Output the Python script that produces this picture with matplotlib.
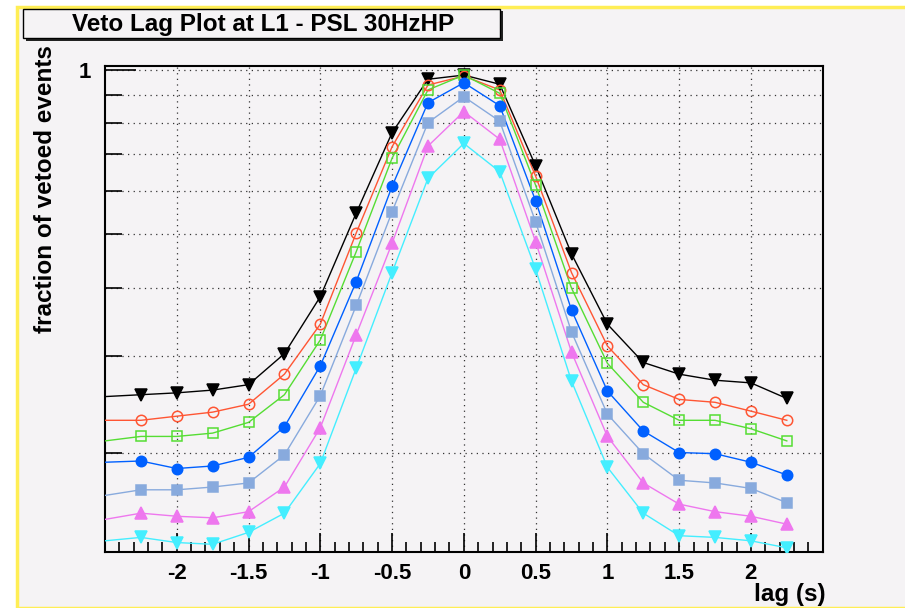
import matplotlib
matplotlib.use("Agg")
import matplotlib.pyplot as plt
from matplotlib.patches import Rectangle
from matplotlib.ticker import FixedLocator, NullFormatter, MultipleLocator

# lag values (s); the first point sits on the left frame edge
lags = [-2.5, -2.25, -2.0, -1.75, -1.5, -1.25, -1.0, -0.75, -0.5, -0.25,
        0.0, 0.25, 0.5, 0.75, 1.0, 1.25, 1.5, 1.75, 2.0, 2.25]

black = [0.253, 0.255, 0.257, 0.260, 0.266, 0.303, 0.385, 0.547, 0.767, 0.960,
         0.977, 0.940, 0.667, 0.461, 0.343, 0.292, 0.278, 0.271, 0.268, 0.251]
red = [0.229, 0.229, 0.233, 0.237, 0.245, 0.278, 0.343, 0.503, 0.723, 0.937,
       0.973, 0.918, 0.639, 0.426, 0.313, 0.266, 0.250, 0.247, 0.238, 0.229]
green = [0.210, 0.214, 0.214, 0.217, 0.227, 0.255, 0.321, 0.465, 0.689, 0.918,
         0.977, 0.905, 0.615, 0.399, 0.291, 0.247, 0.229, 0.229, 0.221, 0.210]
blue = [0.192, 0.193, 0.187, 0.189, 0.196, 0.223, 0.288, 0.410, 0.612, 0.870,
        0.946, 0.859, 0.576, 0.364, 0.259, 0.219, 0.200, 0.199, 0.192, 0.182]
lightblue = [0.167, 0.171, 0.171, 0.173, 0.176, 0.198, 0.254, 0.371, 0.550, 0.800,
             0.892, 0.805, 0.527, 0.332, 0.235, 0.199, 0.178, 0.176, 0.172, 0.162]
pink = [0.151, 0.155, 0.153, 0.152, 0.156, 0.173, 0.222, 0.328, 0.482, 0.725,
        0.838, 0.746, 0.485, 0.305, 0.214, 0.176, 0.161, 0.156, 0.153, 0.148]
cyan = [0.138, 0.140, 0.137, 0.136, 0.143, 0.155, 0.191, 0.285, 0.426, 0.633,
        0.733, 0.651, 0.432, 0.270, 0.188, 0.155, 0.141, 0.140, 0.138, 0.134]

series = [
    (black, "#000000", "v", True),
    (red, "#ff5533", "o", False),
    (green, "#55dd33", "s", False),
    (blue, "#0060ff", "o", True),
    (lightblue, "#88aadd", "s", True),
    (pink, "#ee77ee", "^", True),
    (cyan, "#44eeff", "v", True),
]

bg = "#f5f3f5"
fig = plt.figure(figsize=(9.05, 6.08), dpi=100, facecolor="white")
# yellow pad border
fig.patches.append(Rectangle((17 / 905, 0), 1, 1 - 7 / 608, transform=fig.transFigure,
                             facecolor=bg, edgecolor="#ffee55", linewidth=2.5, zorder=-2))

ax = fig.add_axes([105 / 905, 1 - 552.3 / 608, 717.7 / 905, 486.3 / 608])
ax.set_facecolor(bg)

for vals, col, mk, filled in series:
    ax.plot(lags, vals, color=col, linewidth=1, zorder=3)
    ax.plot(lags[1:], vals[1:], linestyle="none", marker=mk,
            markersize={"o": 7.5, "s": 7.5}.get(mk, 8.5),
            markerfacecolor=col if filled else "none", markeredgecolor=col,
            markeredgewidth=1.1, zorder=4)

ax.set_yscale("log")
ax.set_xlim(-2.5, 2.5)
ax.set_ylim(0.1315, 1.015)

ax.xaxis.set_major_locator(FixedLocator([-2, -1.5, -1, -0.5, 0, 0.5, 1, 1.5, 2]))
ax.xaxis.set_minor_locator(MultipleLocator(0.1))
ax.set_xticklabels(["-2", "-1.5", "-1", "-0.5", "0", "0.5", "1", "1.5", "2"])
ax.yaxis.set_major_locator(FixedLocator([1.0]))
ax.yaxis.set_minor_locator(FixedLocator([0.2, 0.3, 0.4, 0.5, 0.6, 0.7, 0.8, 0.9]))
ax.yaxis.set_minor_formatter(NullFormatter())
ax.set_yticklabels(["1"])

ax.tick_params(which="both", direction="in", top=False, right=False, width=1.2)
ax.tick_params(axis="x", which="major", length=14, labelsize=16, pad=8)
ax.tick_params(axis="x", which="minor", length=7)
ax.tick_params(axis="y", which="major", length=22, labelsize=16, pad=10)
ax.tick_params(axis="y", which="minor", length=12)
for lab in ax.get_xticklabels() + ax.get_yticklabels():
    lab.set_fontweight("bold")
    lab.set_fontfamily("Liberation Sans")

ax.grid(True, which="major", linestyle=(0, (1, 3.5)), color="#333333", linewidth=0.9)
ax.grid(True, which="minor", axis="y", linestyle=(0, (1, 3.5)), color="#333333", linewidth=0.9)
ax.set_axisbelow(True)
for sp in ax.spines.values():
    sp.set_linewidth(1.5)

fig.text(45 / 905, 1 - 45 / 608, "fraction of vetoed events", rotation=90, ha="center", va="top",
         fontsize=17.5, fontweight="bold", family="Liberation Sans")
fig.text(826 / 905, 1 - 594 / 608, "lag (s)", ha="right", va="center",
         fontsize=17.5, fontweight="bold", family="Liberation Sans")

# title box with shadow
fig.patches.append(Rectangle((25.5 / 905, 1 - 40.5 / 608), 477 / 905, 29 / 608, transform=fig.transFigure,
                             facecolor="#222222", edgecolor="none", zorder=5))
fig.patches.append(Rectangle((23.3 / 905, 1 - 38.3 / 608), 477 / 905, 29 / 608, transform=fig.transFigure,
                             facecolor=bg, edgecolor="black", linewidth=1, zorder=6))
fig.text(263 / 905, 1 - 24 / 608, "Veto Lag Plot at L1 - PSL 30HzHP", ha="center", va="center",
         fontsize=17.5, fontweight="bold", family="Liberation Sans", zorder=7)

fig.savefig("out.png", dpi=100, facecolor=fig.get_facecolor())
